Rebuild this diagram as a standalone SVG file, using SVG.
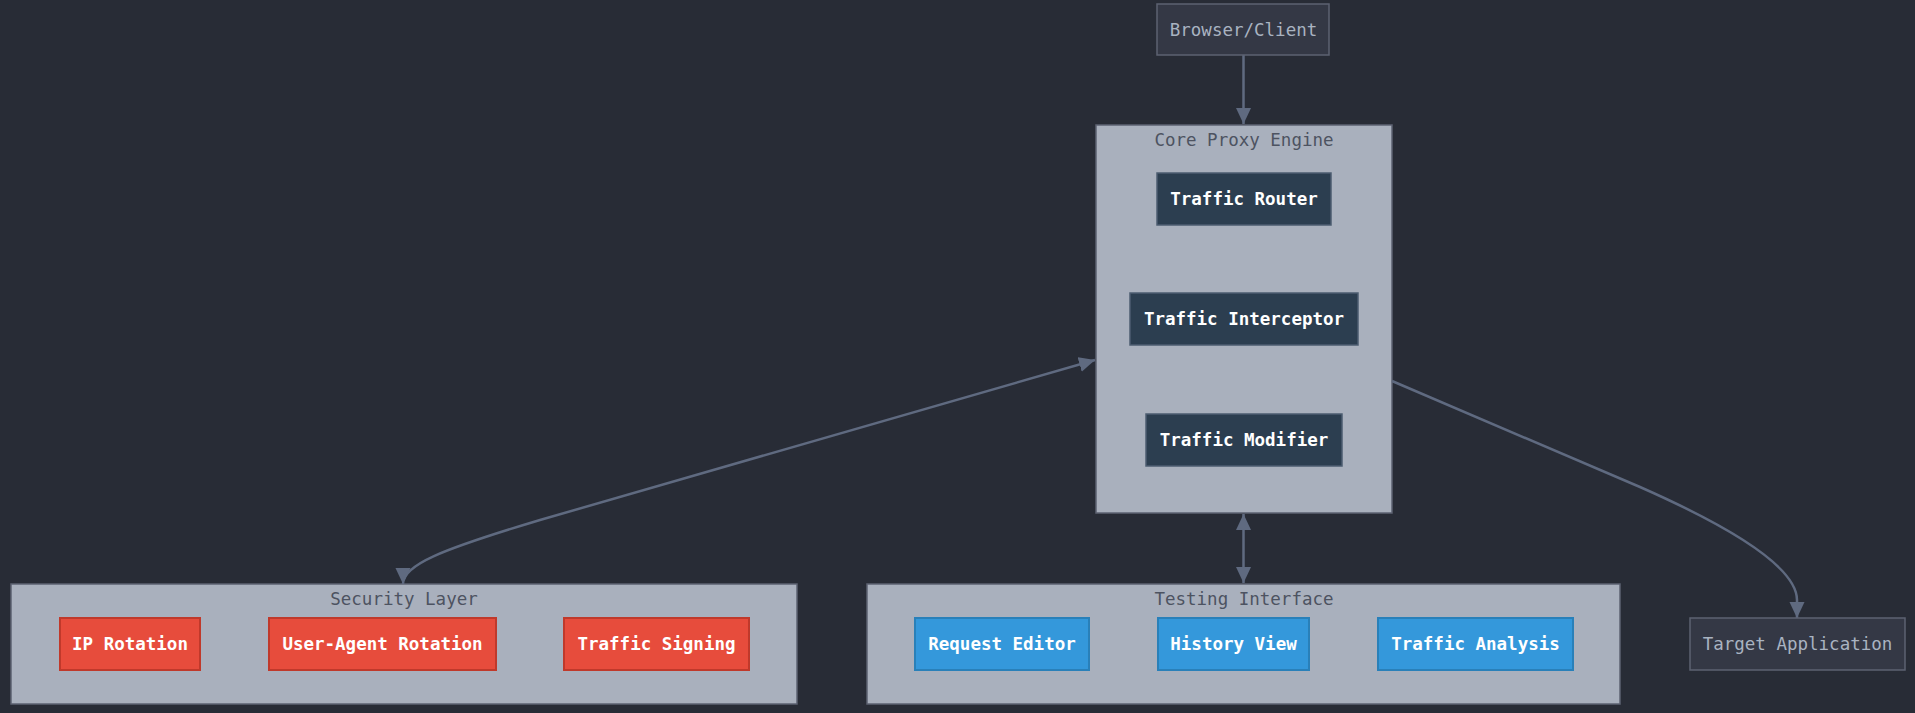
<svg xmlns="http://www.w3.org/2000/svg" width="1915" height="713" viewBox="0 0 1915 713">
<defs>
<marker id="arr" viewBox="0 0 10 10" refX="10" refY="5" markerWidth="16" markerHeight="16" markerUnits="userSpaceOnUse" orient="auto-start-reverse">
<path d="M0,0.3 L10,5 L0,9.7 z" fill="#5f6a80"/>
</marker>
<style>
text{font-family:"DejaVu Sans Mono","Liberation Mono",monospace;font-size:17.5px;text-anchor:middle;dominant-baseline:central}
.cluster rect{fill:#a9b0bd;stroke:#5c6272;stroke-width:1.5}
.cluster text{fill:#4d5361}
.plain rect{fill:#343845;stroke:#5c6272;stroke-width:1.5}
.plain text{fill:#a9b3c1}
.dark rect{fill:#2c3e50;stroke:#4c5c70;stroke-width:1.5}
.dark text{fill:#ffffff;font-weight:bold}
.red rect{fill:#e74c3c;stroke:#c0392b;stroke-width:2}
.red text{fill:#ffffff;font-weight:bold}
.blue rect{fill:#3498db;stroke:#2980b9;stroke-width:2}
.blue text{fill:#ffffff;font-weight:bold}
.edge{fill:none;stroke:#5f6a80;stroke-width:2.5}
</style>
</defs>
<rect x="0" y="0" width="1915" height="713" fill="#282c36"/>

<g id="core-proxy-engine" class="cluster">
<rect x="1096" y="125" width="296" height="388"/>
<text x="1244" y="140">Core Proxy Engine</text>
</g>
<g id="security-layer" class="cluster">
<rect x="11" y="584" width="786" height="120"/>
<text x="404" y="599">Security Layer</text>
</g>
<g id="testing-interface" class="cluster">
<rect x="867" y="584" width="753" height="120"/>
<text x="1244" y="599">Testing Interface</text>
</g>

<g id="connectors">
<path class="edge" d="M1243.5,55 L1243.5,124" marker-end="url(#arr)"/>
<path class="edge" d="M1243.5,514 L1243.5,583" marker-start="url(#arr)" marker-end="url(#arr)"/>
<path class="edge" d="M1095,360 L540,520 C440,550 403,565 403,584" marker-start="url(#arr)" marker-end="url(#arr)"/>
<path class="edge" d="M1392,381 L1640,487 C1760,540 1797,575 1797,600 L1797,618" marker-end="url(#arr)"/>
</g>

<g id="browser-client" class="plain">
<rect x="1157" y="4" width="172" height="51"/>
<text x="1243.5" y="30">Browser/Client</text>
</g>
<g id="target-application" class="plain">
<rect x="1690" y="618" width="215" height="52"/>
<text x="1797.5" y="644">Target Application</text>
</g>

<g id="traffic-router" class="dark">
<rect x="1157" y="173" width="174" height="52"/>
<text x="1244" y="199">Traffic Router</text>
</g>
<g id="traffic-interceptor" class="dark">
<rect x="1130" y="293" width="228" height="52"/>
<text x="1244" y="319">Traffic Interceptor</text>
</g>
<g id="traffic-modifier" class="dark">
<rect x="1146" y="414" width="196" height="52"/>
<text x="1244" y="440">Traffic Modifier</text>
</g>

<g id="ip-rotation" class="red">
<rect x="60" y="618" width="140" height="52"/>
<text x="130" y="644">IP Rotation</text>
</g>
<g id="user-agent-rotation" class="red">
<rect x="269" y="618" width="227" height="52"/>
<text x="382.5" y="644">User-Agent Rotation</text>
</g>
<g id="traffic-signing" class="red">
<rect x="564" y="618" width="185" height="52"/>
<text x="656.5" y="644">Traffic Signing</text>
</g>

<g id="request-editor" class="blue">
<rect x="915" y="618" width="174" height="52"/>
<text x="1002" y="644">Request Editor</text>
</g>
<g id="history-view" class="blue">
<rect x="1158" y="618" width="151" height="52"/>
<text x="1233.5" y="644">History View</text>
</g>
<g id="traffic-analysis" class="blue">
<rect x="1378" y="618" width="195" height="52"/>
<text x="1475.5" y="644">Traffic Analysis</text>
</g>
</svg>
